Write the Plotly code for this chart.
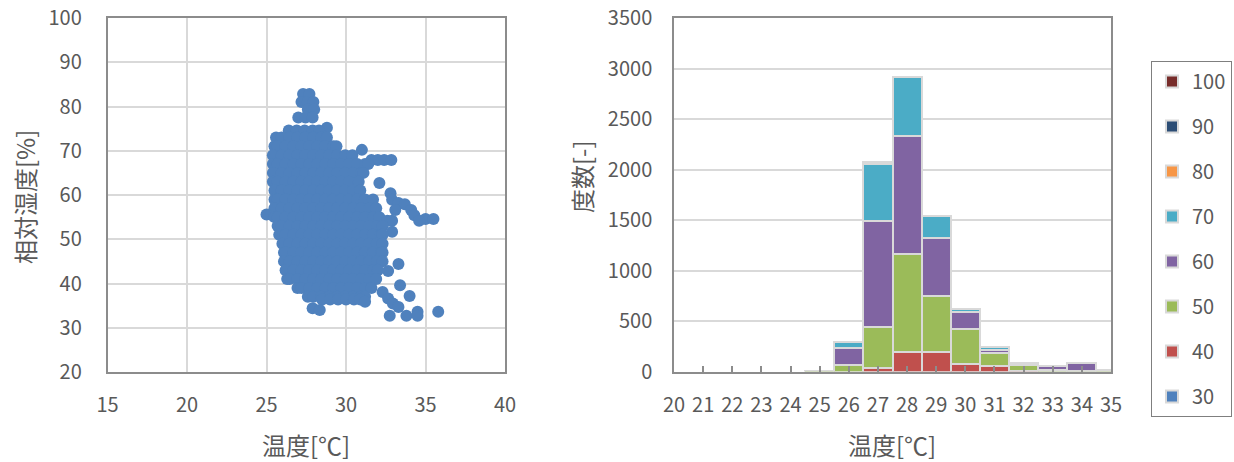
import plotly.graph_objects as go

# ---------------- scatter data (temperature [°C] / relative humidity [%]) ----------------
# rows of the point cloud: (RH, [temperatures])
scatter_rows = [
    (82.8, [27.3, 27.7]),
    (81.0, [27.2, 27.6, 27.95]),
    (79.3, [27.6, 28.0]),
    (77.5, [27.0, 27.45, 27.9]),
    (75.2, [28.8]),
    (74.6, [26.4, 26.9, 27.4, 27.9, 28.3]),
    (73.0, [25.6, 25.95, 26.45, 26.95, 27.45, 27.95, 28.45, 28.8]),
    (71.0, [25.5, 25.7, 26.2, 26.7, 27.2, 27.7, 28.2, 28.7, 29.2, 29.4]),
    (70.2, [31.0]),
    (69.0, [25.4, 25.95, 26.45, 26.95, 27.45, 27.95, 28.45, 28.95, 29.45, 29.95, 30.4]),
    (67.9, [31.6, 32.0, 32.4, 32.85]),
    (67.0, [25.4, 25.7, 26.2, 26.7, 27.2, 27.7, 28.2, 28.7, 29.2, 29.7, 30.2, 30.7, 31.2, 31.4]),
    (65.0, [25.4, 25.95, 26.45, 26.95, 27.45, 27.95, 28.45, 28.95, 29.45, 29.95, 30.45, 30.95, 31.1]),
    (63.0, [25.4, 25.7, 26.2, 26.7, 27.2, 27.7, 28.2, 28.7, 29.2, 29.7, 30.2, 30.8]),
    (62.7, [32.1]),
    (61.0, [25.5, 25.95, 26.45, 26.95, 27.45, 27.95, 28.45, 28.95, 29.45, 29.95, 30.45, 30.9]),
    (60.4, [32.8]),
    (59.0, [25.5, 25.7, 26.2, 26.7, 27.2, 27.7, 28.2, 28.7, 29.2, 29.7, 30.2, 30.7, 31.2, 31.7]),
    (58.9, [32.9]),
    (58.2, [33.3]),
    (57.9, [33.7]),
    (57.0, [25.5, 25.95, 26.45, 26.95, 27.45, 27.95, 28.45, 28.95, 29.45, 29.95, 30.45, 30.95, 31.45, 31.9]),
    (56.6, [33.1, 34.1]),
    (55.6, [25.0]),
    (55.4, [34.3]),
    (55.0, [25.5, 25.7, 26.2, 26.7, 27.2, 27.7, 28.2, 28.7, 29.2, 29.7, 30.2, 30.7, 31.2, 31.7, 32.1]),
    (54.6, [35.0, 35.5]),
    (54.2, [32.6, 32.9, 34.6]),
    (53.0, [25.7, 25.95, 26.45, 26.95, 27.45, 27.95, 28.45, 28.95, 29.45, 29.95, 30.45, 30.95, 31.45, 31.95, 32.3]),
    (51.7, [32.9]),
    (51.0, [25.8, 26.2, 26.7, 27.2, 27.7, 28.2, 28.7, 29.2, 29.7, 30.2, 30.7, 31.2, 31.7, 32.2, 32.3]),
    (49.0, [26.0, 26.45, 26.95, 27.45, 27.95, 28.45, 28.95, 29.45, 29.95, 30.45, 30.95, 31.45, 31.95, 32.3]),
    (47.0, [26.1, 26.2, 26.7, 27.2, 27.7, 28.2, 28.7, 29.2, 29.7, 30.2, 30.7, 31.2, 31.7, 32.2, 32.3]),
    (45.0, [26.1, 26.45, 26.95, 27.45, 27.95, 28.45, 28.95, 29.45, 29.95, 30.45, 30.95, 31.45, 31.95, 32.3]),
    (44.4, [33.3]),
    (43.0, [26.2, 26.7, 27.2, 27.7, 28.2, 28.7, 29.2, 29.7, 30.2, 30.7, 31.2, 31.7, 32.0]),
    (42.8, [32.65]),
    (41.0, [26.3, 26.45, 26.95, 27.45, 27.95, 28.45, 28.95, 29.45, 29.95, 30.45, 30.95, 31.45, 31.9]),
    (39.6, [33.4]),
    (39.0, [26.95, 27.2, 27.7, 28.2, 28.7, 29.2, 29.7, 30.2, 30.7, 31.2, 31.6]),
    (38.1, [32.3]),
    (37.2, [34.0]),
    (37.0, [27.6, 27.95, 28.45, 28.95, 29.45, 29.95, 30.45, 30.95, 31.2]),
    (36.6, [32.65]),
    (36.4, [28.5, 29.0, 29.5, 30.0, 30.5, 30.9]),
    (35.9, [31.2]),
    (35.5, [32.95]),
    (34.7, [33.3]),
    (34.4, [27.9]),
    (34.0, [28.35]),
    (33.6, [34.5, 35.8]),
    (32.7, [32.75, 33.8, 34.5]),
]

# ---------------- histogram data (counts per temperature bin, per RH class) ----------------
temp_bins = [20, 21, 22, 23, 24, 25, 26, 27, 28, 29, 30, 31, 32, 33, 34, 35]
tick_labels = [str(t) for t in temp_bins]
rh_classes = ["30", "40", "50", "60", "70", "80", "90", "100"]
count_30 = [0, 0, 0, 0, 0, 0, 0, 0, 0, 0, 0, 0, 0, 0, 0, 0]
count_40 = [0, 0, 0, 0, 0, 0, 0, 35, 190, 190, 70, 55, 5, 0, 0, 0]
count_50 = [0, 0, 0, 0, 0, 5, 60, 405, 975, 555, 355, 130, 55, 12, 5, 15]
count_60 = [0, 0, 0, 0, 0, 0, 170, 1046, 1165, 575, 160, 25, 10, 40, 75, 0]
count_70 = [0, 0, 0, 0, 0, 0, 66, 571, 582, 220, 33, 30, 10, 0, 0, 0]
count_80 = [0, 0, 0, 0, 0, 0, 0, 20, 0, 0, 0, 0, 0, 0, 0, 0]
count_90 = [0, 0, 0, 0, 0, 0, 0, 0, 0, 0, 0, 0, 0, 0, 0, 0]
count_100 = [0, 0, 0, 0, 0, 0, 0, 0, 0, 0, 0, 0, 0, 0, 0, 0]
class_colors = ["#4F81BD", "#C0504D", "#9BBB59", "#8064A2", "#4BACC6", "#F79646", "#2C4D75", "#772C2A"]

# ---------------- figure ----------------
W, H = 1234, 462
FONT = "Noto Sans CJK JP, Noto Sans, sans-serif"
TXT = "#595959"
GRID = "#D9D9D9"
AX = "#8C8C8C"

def px_x(p):
    return p / W

def px_y(p):
    return 1 - p / H

scatter_t = [t for rh, ts in scatter_rows for t in ts]
scatter_rh = [rh for rh, ts in scatter_rows for t in ts]

fig = go.Figure()
fig.add_trace(go.Scatter(
    x=scatter_t, y=scatter_rh, mode="markers",
    marker=dict(color="#4F81BD", size=12, line=dict(width=0)),
    xaxis="x", yaxis="y", showlegend=False, hoverinfo="x+y"))

all_counts = [count_30, count_40, count_50, count_60, count_70, count_80, count_90, count_100]
n_cls = len(rh_classes)
for i, (name, vals, col) in enumerate(zip(rh_classes, all_counts, class_colors)):
    fig.add_trace(go.Bar(
        x=temp_bins, y=[v if v else None for v in vals], name=name,
        marker=dict(color=col, line=dict(color=GRID, width=2)),
        width=1, xaxis="x2", yaxis="y2", legendgroup=name, legendrank=n_cls - i))

axis_common = dict(showline=True, linecolor=AX, linewidth=1.5, mirror=True,
                   gridcolor=GRID, gridwidth=2, zeroline=False, automargin=False,
                   tickfont=dict(family=FONT, size=20, color=TXT))

fig.update_layout(
    width=W, height=H,
    margin=dict(l=0, r=0, t=0, b=0),
    paper_bgcolor="white", plot_bgcolor="white",
    barmode="stack", bargap=0,
    font=dict(family=FONT, color=TXT),
    xaxis=dict(domain=[px_x(107.5), px_x(505)], range=[15, 40], tickmode="linear", tick0=15, dtick=5,
               ticks="", ticklabelstandoff=14, anchor="y", **axis_common),
    yaxis=dict(domain=[px_y(372), px_y(18)], range=[20, 100], tickmode="linear", tick0=20, dtick=10,
               ticks="", ticklabelstandoff=20, anchor="x", **axis_common),
    xaxis2=dict(domain=[px_x(674), px_x(1111)], range=[20, 35], tickmode="array", tickvals=temp_bins,
                ticktext=tick_labels, showgrid=False, ticks="inside", ticklen=6, tickwidth=2, tickcolor=AX,
                ticklabelstandoff=15, anchor="y2", **axis_common),
    yaxis2=dict(domain=[px_y(371.5), px_y(18)], range=[0, 3500], tickmode="linear", tick0=0, dtick=500,
                ticks="", ticklabelstandoff=16, anchor="x2", **axis_common),
    legend=dict(x=px_x(1151), y=px_y(61), xanchor="left", yanchor="top",
                traceorder="grouped", tracegroupgap=16,
                bordercolor="#7F7F7F", borderwidth=1, bgcolor="white",
                font=dict(family=FONT, size=20, color=TXT)),
    annotations=[
        dict(text="温度[℃]", x=px_x(306), y=px_y(444), xref="paper", yref="paper",
             showarrow=False, xanchor="center", yanchor="middle", font=dict(family=FONT, size=24, color=TXT)),
        dict(text="相対湿度[%]", x=px_x(25), y=px_y(197), xref="paper", yref="paper", textangle=-90,
             showarrow=False, xanchor="center", yanchor="middle", font=dict(family=FONT, size=24, color=TXT)),
        dict(text="温度[℃]", x=px_x(892), y=px_y(444), xref="paper", yref="paper",
             showarrow=False, xanchor="center", yanchor="middle", font=dict(family=FONT, size=24, color=TXT)),
        dict(text="度数[-]", x=px_x(581), y=px_y(177), xref="paper", yref="paper", textangle=-90,
             showarrow=False, xanchor="center", yanchor="middle", font=dict(family=FONT, size=24, color=TXT)),
    ],
)

fig.write_html("out.html", config={"displayModeBar": False},
               post_script="document.body.style.margin='0';document.body.style.overflow='hidden';")
